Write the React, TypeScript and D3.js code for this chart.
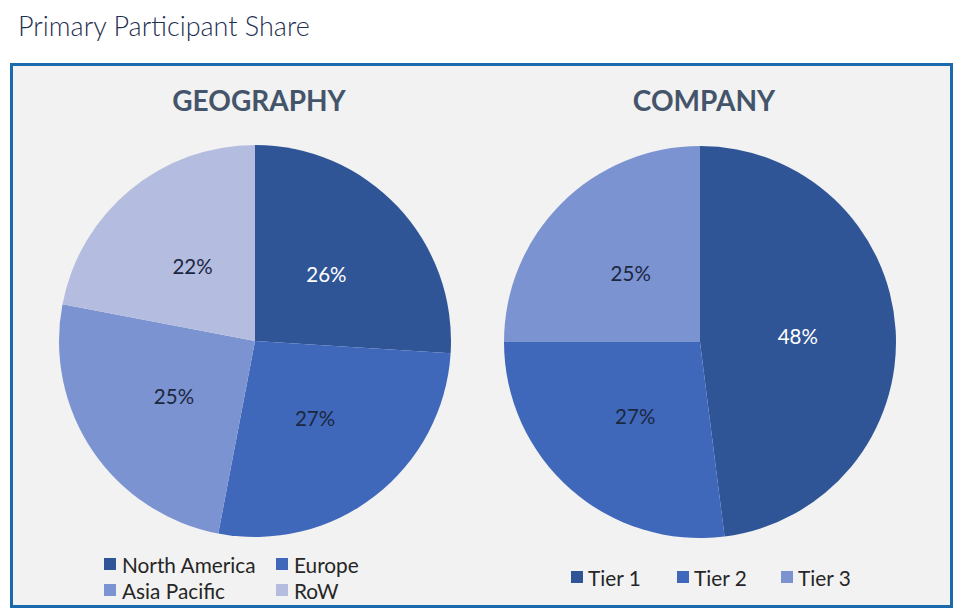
import React from "react";
import * as d3 from "d3";

const geoCategories = ["North America", "Europe", "Asia Pacific", "RoW"];
const geoValues = [26, 27, 25, 22];
const companyCategories = ["Tier 1", "Tier 2", "Tier 3"];
const companyValues = [48, 27, 25];
const sliceColors = ["#2f5597", "#3f68bb", "#7b93d1", "#b4bde0"];
const labelColors = ["#ffffff", "#1c2740", "#1c2740", "#1c2740"];

const W = 955;
const H = 611;
const R = 196;
const FONT = "Lato, Carlito, Calibri, sans-serif";

function Pie({ cx, cy, values }: { cx: number; cy: number; values: number[] }) {
  const pie = d3.pie<number>().sort(null).value((d) => d);
  const arcs = pie(values);
  const arc = d3.arc<d3.PieArcDatum<number>>().innerRadius(0).outerRadius(R);
  return (
    <g transform={`translate(${cx},${cy})`}>
      {arcs.map((a, i) => (
        <path key={i} d={arc(a) || ""} fill={sliceColors[i]} stroke="none" />
      ))}
      {arcs.map((a, i) => {
        const [x, y] = arc.centroid(a);
        return (
          <text
            key={"t" + i}
            x={x}
            y={y}
            textAnchor="middle"
            dominantBaseline="central"
            fontSize={20.5}
            fontFamily={FONT}
            fill={labelColors[i]}
          >
            {a.data}%
          </text>
        );
      })}
    </g>
  );
}

export default function App() {
  return (
    <svg
      width={W}
      height={H}
      style={{ position: "absolute", left: 0, top: 0, display: "block" }}
    >
      <rect x={0} y={0} width={W} height={H} fill="#ffffff" />
      <text x={18} y={36} fontSize={27} fontWeight={300} fontFamily={FONT} fill="#1f3052">
        Primary Participant Share
      </text>
      <rect x={11.5} y={64.5} width={940} height={542} fill="#f2f2f2" stroke="#1b6aae" strokeWidth={3} />

      <text x={259} y={111} textAnchor="middle" fontSize={28} fontWeight="bold" fontFamily={FONT} fill="#44546a">
        GEOGRAPHY
      </text>
      <text x={704} y={111} textAnchor="middle" fontSize={28} fontWeight="bold" fontFamily={FONT} fill="#44546a">
        COMPANY
      </text>

      <Pie cx={255} cy={341} values={geoValues} />
      <Pie cx={700} cy={342} values={companyValues} />

      {geoCategories.map((c, i) => {
        const col = i % 2;
        const row = Math.floor(i / 2);
        const x = col === 0 ? 104 : 276;
        const y = 564 + row * 26;
        return (
          <g key={c}>
            <rect x={x} y={y - 6} width={12} height={12} fill={sliceColors[i]} />
            <text x={x + 18} y={y} dominantBaseline="central" fontSize={20.8} fontFamily={FONT} fill="#262626">
              {c}
            </text>
          </g>
        );
      })}
      {companyCategories.map((c, i) => {
        const xs = [571, 677, 781];
        const x = xs[i];
        const y = 577;
        return (
          <g key={c}>
            <rect x={x} y={y - 6} width={12} height={12} fill={sliceColors[i]} />
            <text x={x + 17} y={y} dominantBaseline="central" fontSize={20.8} fontFamily={FONT} fill="#262626">
              {c}
            </text>
          </g>
        );
      })}
    </svg>
  );
}
